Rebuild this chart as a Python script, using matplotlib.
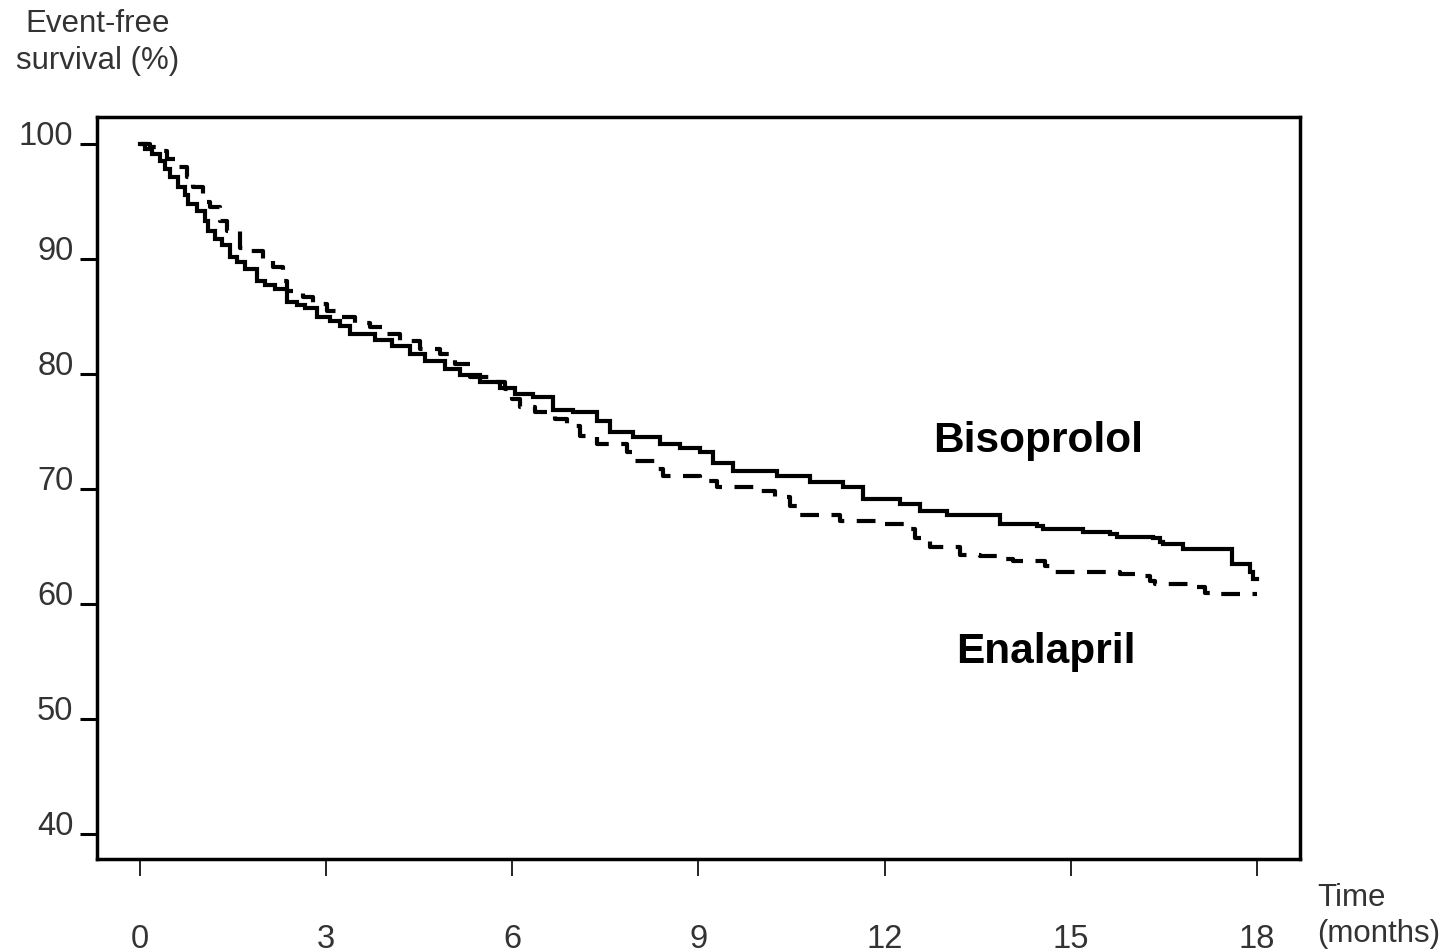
import numpy as np
import matplotlib.pyplot as plt

plt.rcParams['font.family'] = ['Liberation Sans', 'DejaVu Sans']

# Kaplan-Meier step curves: time (months), survival (%)
biso_t = [0, 0.08, 0.19, 0.32, 0.40, 0.48, 0.61, 0.73, 0.77, 0.92, 1.05, 1.10, 1.21, 1.32,
          1.45, 1.56, 1.69, 1.89, 2.01, 2.18, 2.37, 2.53, 2.66, 2.85, 3.06, 3.22, 3.38, 3.79,
          4.06, 4.35, 4.59, 4.91, 5.16, 5.48, 5.80, 6.04, 6.33, 6.65, 6.98, 7.36, 7.57, 7.94,
          8.38, 8.70, 9.02, 9.23, 9.56, 10.26, 10.80, 11.33, 11.65, 12.25, 12.57, 13.00,
          13.86, 14.45, 14.55, 15.19, 15.63, 15.74, 16.32, 16.44, 16.48, 16.81, 17.60,
          17.89, 17.93, 18.0]
biso_s = [100, 99.6, 99.1, 98.5, 97.8, 97.1, 96.3, 95.6, 94.8, 94.2, 93.3, 92.4, 91.7, 91.2,
          90.2, 89.7, 89.1, 88.1, 87.7, 87.4, 86.3, 86.0, 85.7, 85.0, 84.6, 84.2, 83.5, 83.0,
          82.4, 81.7, 81.1, 80.4, 79.9, 79.3, 78.8, 78.3, 78.0, 76.9, 76.7, 75.9, 75.0, 74.5,
          73.9, 73.6, 73.2, 72.3, 71.6, 71.1, 70.6, 70.2, 69.1, 68.7, 68.1, 67.7,
          67.0, 66.8, 66.5, 66.3, 66.1, 65.8, 65.7, 65.4, 65.2, 64.8, 63.5,
          62.8, 62.2, 62.2]

enal_t = [0, 0.16, 0.32, 0.44, 0.60, 0.76, 0.85, 1.02, 1.13, 1.29, 1.40, 1.61, 1.77, 1.98,
          2.14, 2.30, 2.37, 2.63, 2.79, 3.01, 3.22, 3.46, 3.71, 3.95, 4.19, 4.51, 4.83, 5.08,
          5.32, 5.64, 5.88, 5.99, 6.12, 6.36, 6.69, 6.88, 7.09, 7.36, 7.85, 7.94, 8.33, 8.43,
          9.02, 9.30, 9.99, 10.23, 10.47, 10.63, 11.28, 11.92, 12.33, 12.49, 12.73, 13.21,
          13.54, 13.94, 14.07, 14.58, 14.66, 15.79, 16.11, 16.27, 16.35, 17.00, 17.16,
          17.27, 18.0]
enal_s = [100, 99.7, 99.4, 98.7, 98.0, 97.1, 96.3, 95.0, 94.5, 93.3, 92.4, 91.0, 90.7, 89.8,
          89.3, 88.1, 87.2, 86.7, 86.1, 85.5, 85.0, 84.4, 84.1, 83.5, 82.9, 82.2, 81.7, 80.9,
          79.7, 79.3, 78.7, 77.8, 77.1, 76.7, 76.1, 75.5, 74.6, 73.9, 73.2, 72.4, 71.7, 71.1,
          70.7, 70.2, 69.8, 69.3, 68.5, 67.7, 67.2, 67.0, 66.5, 65.7, 65.0, 64.3,
          64.2, 63.9, 63.7, 63.3, 62.8, 62.6, 62.4, 62.0, 61.7, 61.5, 61.0,
          60.9, 60.9]

xticks = [0, 3, 6, 9, 12, 15, 18]
yticks = [40, 50, 60, 70, 80, 90, 100]

fig = plt.figure(figsize=(14.52, 9.53), dpi=100)
ax = fig.add_axes([0.0668, 0.0976, 0.8285, 0.7786])

ax.plot(biso_t, biso_s, color='black', lw=3, drawstyle='steps-post', solid_joinstyle='miter')
ax.plot(enal_t, enal_s, color='black', lw=3, drawstyle='steps-post', dashes=(4.5, 3))

ax.set_xlim(-0.69, 18.69)
ax.set_ylim(37.83, 102.35)
ax.set_xticks(xticks)
ax.set_yticks(yticks)
ax.set_xticklabels([str(v) for v in xticks])
ax.set_yticklabels([str(v) for v in yticks])

for s in ax.spines.values():
    s.set_linewidth(2.5)

ax.tick_params(axis='y', direction='out', length=12, width=2.2, pad=5,
               labelsize=23.5, labelcolor='#333333')
ax.tick_params(axis='x', direction='out', length=12, width=1.2, pad=34,
               labelsize=23.5, labelcolor='#333333')
for lab in ax.get_yticklabels():
    lab.set_va('baseline')

fig.text(0.0675, 0.955, 'Event-free\nsurvival (%)', ha='center', va='center',
         fontsize=22.5, color='#333333', linespacing=1.3)
fig.text(0.907, 0.0388, 'Time\n(months)', ha='left', va='center',
         fontsize=22.5, color='#333333', linespacing=1.3)

ax.text(14.47, 74.3, 'Bisoprolol', ha='center', va='center', fontsize=30.5, fontweight='bold')
ax.text(14.6, 55.9, 'Enalapril', ha='center', va='center', fontsize=30.5, fontweight='bold')

fig.savefig('out.png', dpi=100)
